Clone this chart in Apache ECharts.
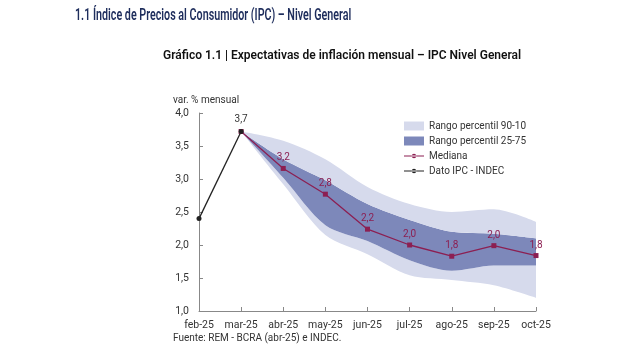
<!DOCTYPE html>
<html><head><meta charset="utf-8">
<script src="https://cdn.jsdelivr.net/npm/echarts@6/dist/echarts.min.js"></script>
<style>html,body{margin:0;padding:0;background:#fff}#c{width:642px;height:361px}</style>
</head><body><div id="c"></div>
<script>
const categories = ['feb-25','mar-25','abr-25','may-25','jun-25','jul-25','ago-25','sep-25','oct-25'];
const ipc = [2.40, 3.72, null, null, null, null, null, null, null];
const mediana = [null, 3.72, 3.16, 2.77, 2.24, 2.00, 1.83, 1.99, 1.84];
const p90 = [null, 3.72, 3.58, 3.30, 2.88, 2.62, 2.50, 2.54, 2.35];
const p75 = [null, 3.72, 3.30, 2.98, 2.62, 2.38, 2.20, 2.17, 2.10];
const p25 = [null, 3.72, 3.02, 2.30, 2.06, 1.77, 1.61, 1.69, 1.69];
const p10 = [null, 3.72, 2.92, 2.15, 1.86, 1.54, 1.47, 1.39, 1.20];
const yTicks = {min: 1, max: 4, interval: 0.5};

const diff = (a, b) => a.map((v, i) => (v == null || b[i] == null) ? null : +(v - b[i]).toFixed(4));
const fmt = v => v.toFixed(1).replace('.', ',');
const LIGHT = '#d6daec', DARK = '#7d88ba', MED = '#8c1f52', IPC = '#222222';
const font = 'Roboto, "Noto Sans", sans-serif';
const lineIcon = 'path://M0,0h0.01v0.01h-0.01z M20,9h-0.01v-0.01h0.01z M0,4h20v1h-20z M10,2.3a2.2,2.2 0 1,0 0.01,0z';

const chart = echarts.init(document.getElementById('c'), null, {renderer: 'canvas'});
chart.setOption({
  animation: false,
  textStyle: {fontFamily: font},
  graphic: [
    {type: 'text', left: 75, top: 8, scaleX: 0.67, style: {text: '1.1 Índice de Precios al Consumidor (IPC) – Nivel General', font: '600 16px ' + font, fill: '#1e2d5c'}},
    {type: 'text', left: 163, top: 49, scaleX: 0.96, style: {text: 'Gráfico 1.1 | Expectativas de inflación mensual – IPC Nivel General', font: '600 12.5px ' + font, fill: '#111'}},
    {type: 'text', left: 173, top: 95, style: {text: 'var. % mensual', font: '10px ' + font, fill: '#333'}},
    {type: 'text', left: 173, top: 333, style: {text: 'Fuente: REM - BCRA (abr-25) e INDEC.', font: '10px ' + font, fill: '#333'}}
  ],
  grid: {left: 199, right: 106, top: 113, bottom: 50, containLabel: false},
  legend: {
    orient: 'vertical', left: 399, top: 116, itemGap: 5, itemWidth: 20, itemHeight: 9,
    textStyle: {fontSize: 10, color: '#333', fontFamily: font},
    data: [
      {name: 'Rango percentil 90-10', icon: 'rect'},
      {name: 'Rango percentil 25-75', icon: 'rect'},
      {name: 'Mediana', icon: lineIcon},
      {name: 'Dato IPC - INDEC', icon: lineIcon}
    ]
  },
  xAxis: {
    type: 'category', data: categories, boundaryGap: false,
    axisLine: {lineStyle: {color: '#888'}},
    axisTick: {inside: true, length: 4, lineStyle: {color: '#888'}},
    axisLabel: {color: '#333', fontSize: 10.5, margin: 9, interval: 0},
    splitLine: {show: false}
  },
  yAxis: {
    type: 'value', min: yTicks.min, max: yTicks.max, interval: yTicks.interval,
    axisLine: {show: true, lineStyle: {color: '#888'}},
    axisTick: {show: true, inside: true, length: 4, lineStyle: {color: '#888'}},
    axisLabel: {color: '#333', fontSize: 10.5, margin: 10, formatter: v => fmt(v)},
    splitLine: {show: false}
  },
  series: [
    {name: 'base', type: 'line', stack: 'band', data: p10, symbol: 'none', lineStyle: {opacity: 0}, smooth: 0.3, silent: true, legendHoverLink: false},
    {name: 'Rango percentil 90-10', type: 'line', stack: 'band', data: diff(p25, p10), symbol: 'none', lineStyle: {opacity: 0}, areaStyle: {color: LIGHT, opacity: 1}, itemStyle: {color: LIGHT}, smooth: 0.3},
    {name: 'Rango percentil 25-75', type: 'line', stack: 'band', data: diff(p75, p25), symbol: 'none', lineStyle: {opacity: 0}, areaStyle: {color: DARK, opacity: 1}, itemStyle: {color: DARK}, smooth: 0.3},
    {name: 'Rango percentil 90-10', type: 'line', stack: 'band', data: diff(p90, p75), symbol: 'none', lineStyle: {opacity: 0}, areaStyle: {color: LIGHT, opacity: 1}, itemStyle: {color: LIGHT}, smooth: 0.3},
    {name: 'Mediana', type: 'line', data: mediana, symbol: 'rect', symbolSize: 5, showSymbol: true,
      lineStyle: {color: MED, width: 1.3}, itemStyle: {color: MED},
      label: {show: true, position: 'top', distance: 3, color: MED, fontSize: 10,
        formatter: p => p.dataIndex === 1 ? '' : fmt(p.value)}},
    {name: 'Dato IPC - INDEC', type: 'line', data: ipc, symbol: 'circle', symbolSize: 5,
      lineStyle: {color: IPC, width: 1.3}, itemStyle: {color: IPC},
      label: {show: true, position: 'top', distance: 4, color: '#333', fontSize: 10,
        formatter: p => p.dataIndex === 1 ? fmt(p.value) : ''}}
  ]
});
</script></body></html>
